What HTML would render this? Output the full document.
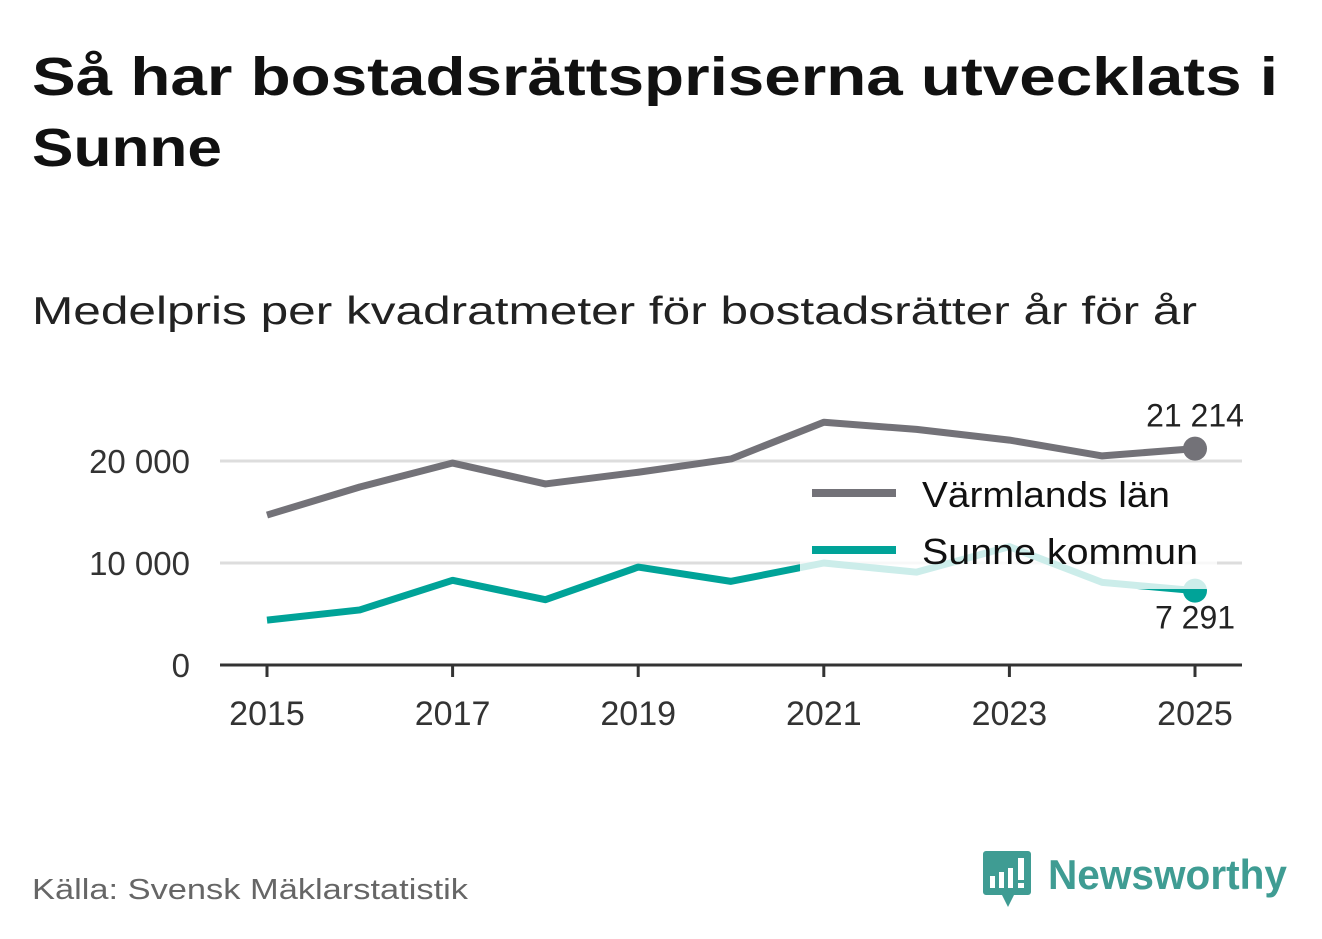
<!DOCTYPE html>
<html><head><meta charset="utf-8"><style>
body{margin:0;background:#fff;width:1322px;height:939px;overflow:hidden;font-family:"Liberation Sans",sans-serif}
</style></head><body>
<svg width="1322" height="939" style="position:absolute;left:0;top:0">
<text x="32" y="95" font-size="54" font-weight="bold" fill="#111" textLength="1246" lengthAdjust="spacingAndGlyphs">Så har bostadsrättspriserna utvecklats i</text>
<text x="32" y="166" font-size="54" font-weight="bold" fill="#111" textLength="190" lengthAdjust="spacingAndGlyphs">Sunne</text>
<text x="32" y="324" font-size="39" fill="#222" textLength="1165" lengthAdjust="spacingAndGlyphs">Medelpris per kvadratmeter för bostadsrätter år för år</text>
<g id="grid"></g>
<g id="plot"></g>
<text x="32" y="899" font-size="29" fill="#666" textLength="436" lengthAdjust="spacingAndGlyphs">Källa: Svensk Mäklarstatistik</text>
<g>
<path d="M986 851 h42 a3 3 0 0 1 3 3 v38 a3 3 0 0 1 -3 3 h-14 l-6 12 l-6 -12 h-16 a3 3 0 0 1 -3 -3 v-38 a3 3 0 0 1 3 -3z" fill="#3f9c93"/>
<rect x="990" y="876" width="5" height="12" fill="#fff"/><rect x="999" y="872" width="5" height="16" fill="#fff"/><rect x="1008" y="868" width="5" height="20" fill="#fff"/><rect x="1018" y="858" width="6" height="22" fill="#fff"/><rect x="1018" y="883" width="6" height="5" fill="#fff"/>
<text x="1048" y="889" font-size="42" font-weight="bold" fill="#3f9c93" textLength="239" lengthAdjust="spacingAndGlyphs">Newsworthy</text>
</g>
</svg>
<script>
const years=[2015,2016,2017,2018,2019,2020,2021,2022,2023,2024,2025];
const varmland=[14700,17450,19800,17750,18900,20200,23800,23100,22050,20500,21214];
const sunne=[4400,5400,8300,6400,9600,8200,10000,9100,11600,8100,7291];
const yTicks=[0,10000,20000];
const xTicks=[2015,2017,2019,2021,2023,2025];
const ns='http://www.w3.org/2000/svg';
const X=v=>267+(v-2015)*92.8;
const Y=v=>665-v*0.0102;
const fmt=v=>String(v).replace(/\B(?=(\d{3})+(?!\d))/g,' ');
function mk(t,a,p){const e=document.createElementNS(ns,t);for(const k in a)e.setAttribute(k,a[k]);p.appendChild(e);return e;}
const g=document.getElementById('grid'),p=document.getElementById('plot');
yTicks.forEach(v=>{
 if(v>0){const l=mk('line',{x1:220,x2:1242,y1:Y(v),y2:Y(v),stroke:'#ddd','stroke-width':3},g);
 
 }
 const t=mk('text',{x:190,y:Y(v)+12,'font-size':33,fill:'#333','text-anchor':'end'},g);t.textContent=fmt(v);
 
 
});
const ax=mk('line',{x1:220,x2:1242,y1:665,y2:665,stroke:'#333','stroke-width':3},g);


xTicks.forEach(v=>{
 mk('line',{x1:X(v),x2:X(v),y1:665,y2:677,stroke:'#333','stroke-width':3},g);
 const t=mk('text',{x:X(v),y:725,'font-size':34,fill:'#333','text-anchor':'middle'},g);t.textContent=v;
 
 
});
function series(vals,color,name){
 const pl=mk('polyline',{points:vals.map((v,i)=>X(years[i])+','+Y(v)).join(' '),fill:'none',stroke:color,'stroke-width':7,'stroke-linejoin':'round'},p);
 
 
 const n=vals.length-1;
 const c=mk('circle',{cx:X(years[n]),cy:Y(vals[n]),r:12,fill:color},p);
 
 
}
series(varmland,'#737278','varmland');
series(sunne,'#00a398','sunne');
const lv=mk('text',{x:1195,y:Y(varmland[10])-22,'font-size':32,fill:'#222','text-anchor':'middle'},p);lv.textContent=fmt(varmland[10]);


const ls=mk('text',{x:1195,y:Y(sunne[10])+38,'font-size':32,fill:'#222','text-anchor':'middle'},p);ls.textContent=fmt(sunne[10]);


const lg=mk('g',{},p);


mk('rect',{x:800,y:470,width:417,height:119,fill:'#fff','fill-opacity':0.8},lg);
mk('line',{x1:812,x2:896,y1:493,y2:493,stroke:'#737278','stroke-width':8},lg);
mk('line',{x1:812,x2:896,y1:550,y2:550,stroke:'#00a398','stroke-width':8},lg);
const t1=mk('text',{x:922,y:507,'font-size':36,fill:'#111',textLength:248,lengthAdjust:'spacingAndGlyphs'},lg);t1.textContent='Värmlands län';


const t2=mk('text',{x:922,y:564,'font-size':36,fill:'#111',textLength:276,lengthAdjust:'spacingAndGlyphs'},lg);t2.textContent='Sunne kommun';


</script>
</body></html>
